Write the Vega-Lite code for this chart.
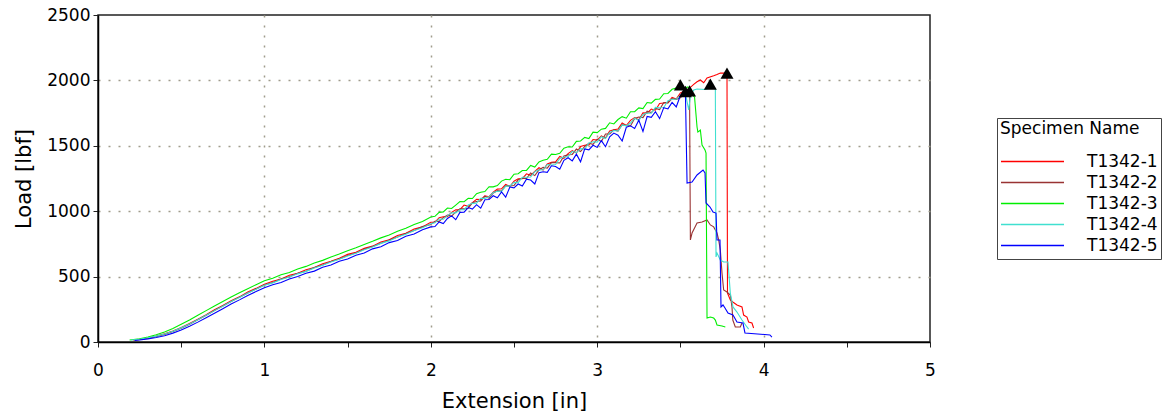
{
  "$schema": "https://vega.github.io/schema/vega-lite/v6.json",
  "width": 832,
  "height": 327,
  "autosize": {"type": "none"},
  "padding": {"left": 98, "top": 15, "right": 242, "bottom": 74},
  "background": "white",
  "config": {
    "font": "DejaVu Sans",
    "view": {"stroke": "#222222", "strokeWidth": 1.5},
    "axis": {
      "labelFont": "DejaVu Sans",
      "titleFont": "DejaVu Sans",
      "labelColor": "#000000",
      "titleColor": "#000000",
      "labelFontSize": 17,
      "titleFontSize": 21,
      "titleFontWeight": "normal",
      "domainColor": "#000000",
      "domainWidth": 1.5,
      "tickColor": "#222222",
      "tickSize": 5,
      "gridColor": "#a09c8c",
      "gridWidth": 1.5,
      "gridDash": [2, 8]
    }
  },
  "datasets": {
    "lines": [
      {"s":"T1342-1","x":0.21,"y":15},{"s":"T1342-1","x":0.25,"y":20},{"s":"T1342-1","x":0.3,"y":31},{"s":"T1342-1","x":0.35,"y":45},{"s":"T1342-1","x":0.4,"y":63},{"s":"T1342-1","x":0.45,"y":84},{"s":"T1342-1","x":0.5,"y":110},{"s":"T1342-1","x":0.55,"y":141},{"s":"T1342-1","x":0.6,"y":174},{"s":"T1342-1","x":0.65,"y":208},{"s":"T1342-1","x":0.7,"y":246},{"s":"T1342-1","x":0.75,"y":279},{"s":"T1342-1","x":0.8,"y":316},{"s":"T1342-1","x":0.85,"y":345},{"s":"T1342-1","x":0.9,"y":382},{"s":"T1342-1","x":0.95,"y":410},
      {"s":"T1342-1","x":1,"y":441},{"s":"T1342-1","x":1.05,"y":465},{"s":"T1342-1","x":1.1,"y":482},{"s":"T1342-1","x":1.15,"y":510},{"s":"T1342-1","x":1.2,"y":526},{"s":"T1342-1","x":1.25,"y":553},{"s":"T1342-1","x":1.3,"y":569},{"s":"T1342-1","x":1.35,"y":599},{"s":"T1342-1","x":1.4,"y":617},{"s":"T1342-1","x":1.45,"y":640},{"s":"T1342-1","x":1.5,"y":670},{"s":"T1342-1","x":1.55,"y":686},{"s":"T1342-1","x":1.6,"y":716},{"s":"T1342-1","x":1.65,"y":733},{"s":"T1342-1","x":1.7,"y":765},{"s":"T1342-1","x":1.75,"y":781},{"s":"T1342-1","x":1.8,"y":815},{"s":"T1342-1","x":1.85,"y":832},{"s":"T1342-1","x":1.9,"y":864},{"s":"T1342-1","x":1.95,"y":880},
      {"s":"T1342-1","x":2,"y":915},{"s":"T1342-1","x":2.025,"y":917},{"s":"T1342-1","x":2.05,"y":950},{"s":"T1342-1","x":2.075,"y":957},{"s":"T1342-1","x":2.1,"y":958},{"s":"T1342-1","x":2.125,"y":991},{"s":"T1342-1","x":2.15,"y":1010},{"s":"T1342-1","x":2.175,"y":1012},{"s":"T1342-1","x":2.2,"y":1047},{"s":"T1342-1","x":2.225,"y":1037},{"s":"T1342-1","x":2.25,"y":1066},{"s":"T1342-1","x":2.275,"y":1091},{"s":"T1342-1","x":2.3,"y":1089},{"s":"T1342-1","x":2.325,"y":1118},{"s":"T1342-1","x":2.35,"y":1111},{"s":"T1342-1","x":2.375,"y":1146},{"s":"T1342-1","x":2.4,"y":1169},{"s":"T1342-1","x":2.425,"y":1171},{"s":"T1342-1","x":2.45,"y":1204},{"s":"T1342-1","x":2.475,"y":1188},
      {"s":"T1342-1","x":2.5,"y":1229},{"s":"T1342-1","x":2.525,"y":1248},{"s":"T1342-1","x":2.55,"y":1249},{"s":"T1342-1","x":2.575,"y":1286},{"s":"T1342-1","x":2.6,"y":1274},{"s":"T1342-1","x":2.625,"y":1304},{"s":"T1342-1","x":2.65,"y":1332},{"s":"T1342-1","x":2.675,"y":1315},{"s":"T1342-1","x":2.7,"y":1361},{"s":"T1342-1","x":2.725,"y":1373},{"s":"T1342-1","x":2.75,"y":1377},{"s":"T1342-1","x":2.775,"y":1419},{"s":"T1342-1","x":2.8,"y":1404},{"s":"T1342-1","x":2.825,"y":1440},{"s":"T1342-1","x":2.85,"y":1463},{"s":"T1342-1","x":2.875,"y":1445},{"s":"T1342-1","x":2.9,"y":1494},{"s":"T1342-1","x":2.925,"y":1504},{"s":"T1342-1","x":2.95,"y":1507},{"s":"T1342-1","x":2.975,"y":1548},
      {"s":"T1342-1","x":3,"y":1544},{"s":"T1342-1","x":3.025,"y":1575},{"s":"T1342-1","x":3.05,"y":1560},{"s":"T1342-1","x":3.075,"y":1614},{"s":"T1342-1","x":3.1,"y":1623},{"s":"T1342-1","x":3.125,"y":1628},{"s":"T1342-1","x":3.15,"y":1675},{"s":"T1342-1","x":3.175,"y":1655},{"s":"T1342-1","x":3.2,"y":1695},{"s":"T1342-1","x":3.225,"y":1716},{"s":"T1342-1","x":3.25,"y":1698},{"s":"T1342-1","x":3.275,"y":1752},{"s":"T1342-1","x":3.3,"y":1750},{"s":"T1342-1","x":3.325,"y":1781},{"s":"T1342-1","x":3.35,"y":1772},{"s":"T1342-1","x":3.375,"y":1823},{"s":"T1342-1","x":3.4,"y":1827},{"s":"T1342-1","x":3.425,"y":1830},{"s":"T1342-1","x":3.45,"y":1870},{"s":"T1342-1","x":3.475,"y":1857},{"s":"T1342-1","x":3.5,"y":1905},
      {"s":"T1342-1","x":3.55,"y":1935},{"s":"T1342-1","x":3.58,"y":1970},{"s":"T1342-1","x":3.6,"y":1990},{"s":"T1342-1","x":3.62,"y":2003},{"s":"T1342-1","x":3.64,"y":1982},{"s":"T1342-1","x":3.66,"y":2018},{"s":"T1342-1","x":3.7,"y":2035},{"s":"T1342-1","x":3.72,"y":2045},{"s":"T1342-1","x":3.74,"y":2056},{"s":"T1342-1","x":3.78,"y":2056},
      {"s":"T1342-1","x":3.783,"y":374},{"s":"T1342-1","x":3.8,"y":321},{"s":"T1342-1","x":3.815,"y":306},{"s":"T1342-1","x":3.84,"y":283},{"s":"T1342-1","x":3.87,"y":268},{"s":"T1342-1","x":3.88,"y":206},{"s":"T1342-1","x":3.9,"y":191},{"s":"T1342-1","x":3.91,"y":153},{"s":"T1342-1","x":3.93,"y":145},{"s":"T1342-1","x":3.94,"y":107},

      {"s":"T1342-2","x":0.22,"y":15},{"s":"T1342-2","x":0.25,"y":19},{"s":"T1342-2","x":0.3,"y":29},{"s":"T1342-2","x":0.35,"y":42},{"s":"T1342-2","x":0.4,"y":58},{"s":"T1342-2","x":0.45,"y":80},{"s":"T1342-2","x":0.5,"y":106},{"s":"T1342-2","x":0.55,"y":136},{"s":"T1342-2","x":0.6,"y":170},{"s":"T1342-2","x":0.65,"y":204},{"s":"T1342-2","x":0.7,"y":241},{"s":"T1342-2","x":0.75,"y":276},{"s":"T1342-2","x":0.8,"y":309},{"s":"T1342-2","x":0.85,"y":343},{"s":"T1342-2","x":0.9,"y":375},{"s":"T1342-2","x":0.95,"y":406},
      {"s":"T1342-2","x":1,"y":436},{"s":"T1342-2","x":1.05,"y":455},{"s":"T1342-2","x":1.1,"y":481},{"s":"T1342-2","x":1.15,"y":499},{"s":"T1342-2","x":1.2,"y":525},{"s":"T1342-2","x":1.25,"y":541},{"s":"T1342-2","x":1.3,"y":570},{"s":"T1342-2","x":1.35,"y":588},{"s":"T1342-2","x":1.4,"y":615},{"s":"T1342-2","x":1.45,"y":634},{"s":"T1342-2","x":1.5,"y":662},{"s":"T1342-2","x":1.55,"y":680},{"s":"T1342-2","x":1.6,"y":709},{"s":"T1342-2","x":1.65,"y":730},{"s":"T1342-2","x":1.7,"y":755},{"s":"T1342-2","x":1.75,"y":780},{"s":"T1342-2","x":1.8,"y":803},{"s":"T1342-2","x":1.85,"y":830},{"s":"T1342-2","x":1.9,"y":852},{"s":"T1342-2","x":1.95,"y":882},
      {"s":"T1342-2","x":2,"y":899},{"s":"T1342-2","x":2.025,"y":923},{"s":"T1342-2","x":2.05,"y":922},{"s":"T1342-2","x":2.075,"y":951},{"s":"T1342-2","x":2.1,"y":970},{"s":"T1342-2","x":2.125,"y":963},{"s":"T1342-2","x":2.15,"y":995},{"s":"T1342-2","x":2.175,"y":1018},{"s":"T1342-2","x":2.2,"y":1018},{"s":"T1342-2","x":2.225,"y":1023},{"s":"T1342-2","x":2.25,"y":1064},{"s":"T1342-2","x":2.275,"y":1074},{"s":"T1342-2","x":2.3,"y":1079},{"s":"T1342-2","x":2.325,"y":1114},{"s":"T1342-2","x":2.35,"y":1098},{"s":"T1342-2","x":2.375,"y":1139},{"s":"T1342-2","x":2.4,"y":1157},{"s":"T1342-2","x":2.425,"y":1155},{"s":"T1342-2","x":2.45,"y":1195},{"s":"T1342-2","x":2.475,"y":1194},
      {"s":"T1342-2","x":2.5,"y":1196},{"s":"T1342-2","x":2.525,"y":1240},{"s":"T1342-2","x":2.55,"y":1252},{"s":"T1342-2","x":2.575,"y":1250},{"s":"T1342-2","x":2.6,"y":1292},{"s":"T1342-2","x":2.625,"y":1272},{"s":"T1342-2","x":2.65,"y":1315},{"s":"T1342-2","x":2.675,"y":1336},{"s":"T1342-2","x":2.7,"y":1329},{"s":"T1342-2","x":2.725,"y":1371},{"s":"T1342-2","x":2.75,"y":1371},{"s":"T1342-2","x":2.775,"y":1369},{"s":"T1342-2","x":2.8,"y":1422},{"s":"T1342-2","x":2.825,"y":1431},{"s":"T1342-2","x":2.85,"y":1434},{"s":"T1342-2","x":2.875,"y":1475},{"s":"T1342-2","x":2.9,"y":1456},{"s":"T1342-2","x":2.925,"y":1495},{"s":"T1342-2","x":2.95,"y":1519},{"s":"T1342-2","x":2.975,"y":1511},
      {"s":"T1342-2","x":3,"y":1550},{"s":"T1342-2","x":3.025,"y":1533},{"s":"T1342-2","x":3.05,"y":1590},{"s":"T1342-2","x":3.075,"y":1591},{"s":"T1342-2","x":3.1,"y":1621},{"s":"T1342-2","x":3.125,"y":1612},{"s":"T1342-2","x":3.15,"y":1662},{"s":"T1342-2","x":3.175,"y":1655},{"s":"T1342-2","x":3.2,"y":1652},{"s":"T1342-2","x":3.225,"y":1709},{"s":"T1342-2","x":3.25,"y":1720},{"s":"T1342-2","x":3.275,"y":1716},{"s":"T1342-2","x":3.3,"y":1765},{"s":"T1342-2","x":3.325,"y":1754},{"s":"T1342-2","x":3.35,"y":1786},{"s":"T1342-2","x":3.375,"y":1777},{"s":"T1342-2","x":3.4,"y":1831},{"s":"T1342-2","x":3.425,"y":1828},{"s":"T1342-2","x":3.45,"y":1861},{"s":"T1342-2","x":3.475,"y":1854},{"s":"T1342-2","x":3.5,"y":1867},{"s":"T1342-2","x":3.53,"y":1905},{"s":"T1342-2","x":3.555,"y":1920},
      {"s":"T1342-2","x":3.56,"y":780},{"s":"T1342-2","x":3.57,"y":833},{"s":"T1342-2","x":3.585,"y":872},{"s":"T1342-2","x":3.6,"y":910},{"s":"T1342-2","x":3.63,"y":917},{"s":"T1342-2","x":3.66,"y":933},{"s":"T1342-2","x":3.68,"y":895},{"s":"T1342-2","x":3.7,"y":880},{"s":"T1342-2","x":3.72,"y":833},{"s":"T1342-2","x":3.73,"y":780},{"s":"T1342-2","x":3.74,"y":703},{"s":"T1342-2","x":3.75,"y":527},{"s":"T1342-2","x":3.76,"y":398},{"s":"T1342-2","x":3.78,"y":382},{"s":"T1342-2","x":3.8,"y":359},{"s":"T1342-2","x":3.81,"y":268},{"s":"T1342-2","x":3.815,"y":168},{"s":"T1342-2","x":3.83,"y":115},{"s":"T1342-2","x":3.86,"y":115},{"s":"T1342-2","x":3.87,"y":145},

      {"s":"T1342-3","x":0.19,"y":15},{"s":"T1342-3","x":0.25,"y":25},{"s":"T1342-3","x":0.3,"y":38},{"s":"T1342-3","x":0.35,"y":55},{"s":"T1342-3","x":0.4,"y":76},{"s":"T1342-3","x":0.45,"y":103},{"s":"T1342-3","x":0.5,"y":135},{"s":"T1342-3","x":0.55,"y":168},{"s":"T1342-3","x":0.6,"y":204},{"s":"T1342-3","x":0.65,"y":240},{"s":"T1342-3","x":0.7,"y":276},{"s":"T1342-3","x":0.75,"y":310},{"s":"T1342-3","x":0.8,"y":344},{"s":"T1342-3","x":0.85,"y":376},{"s":"T1342-3","x":0.9,"y":408},{"s":"T1342-3","x":0.95,"y":438},
      {"s":"T1342-3","x":1,"y":468},{"s":"T1342-3","x":1.05,"y":488},{"s":"T1342-3","x":1.1,"y":514},{"s":"T1342-3","x":1.15,"y":532},{"s":"T1342-3","x":1.2,"y":558},{"s":"T1342-3","x":1.25,"y":578},{"s":"T1342-3","x":1.3,"y":604},{"s":"T1342-3","x":1.35,"y":624},{"s":"T1342-3","x":1.4,"y":650},{"s":"T1342-3","x":1.45,"y":672},{"s":"T1342-3","x":1.5,"y":698},{"s":"T1342-3","x":1.55,"y":720},{"s":"T1342-3","x":1.6,"y":746},{"s":"T1342-3","x":1.65,"y":770},{"s":"T1342-3","x":1.7,"y":796},{"s":"T1342-3","x":1.75,"y":818},{"s":"T1342-3","x":1.8,"y":846},{"s":"T1342-3","x":1.85,"y":870},{"s":"T1342-3","x":1.9,"y":898},{"s":"T1342-3","x":1.95,"y":922},
      {"s":"T1342-3","x":2,"y":956},{"s":"T1342-3","x":2.025,"y":961},{"s":"T1342-3","x":2.05,"y":991},{"s":"T1342-3","x":2.075,"y":995},{"s":"T1342-3","x":2.1,"y":1024},{"s":"T1342-3","x":2.125,"y":1021},{"s":"T1342-3","x":2.15,"y":1047},{"s":"T1342-3","x":2.175,"y":1073},{"s":"T1342-3","x":2.2,"y":1072},{"s":"T1342-3","x":2.225,"y":1098},{"s":"T1342-3","x":2.25,"y":1097},{"s":"T1342-3","x":2.275,"y":1134},{"s":"T1342-3","x":2.3,"y":1145},{"s":"T1342-3","x":2.325,"y":1150},{"s":"T1342-3","x":2.35,"y":1187},{"s":"T1342-3","x":2.375,"y":1186},{"s":"T1342-3","x":2.4,"y":1196},{"s":"T1342-3","x":2.425,"y":1230},{"s":"T1342-3","x":2.45,"y":1244},{"s":"T1342-3","x":2.475,"y":1241},
      {"s":"T1342-3","x":2.5,"y":1283},{"s":"T1342-3","x":2.525,"y":1286},{"s":"T1342-3","x":2.55,"y":1311},{"s":"T1342-3","x":2.575,"y":1312},{"s":"T1342-3","x":2.6,"y":1350},{"s":"T1342-3","x":2.625,"y":1337},{"s":"T1342-3","x":2.65,"y":1377},{"s":"T1342-3","x":2.675,"y":1389},{"s":"T1342-3","x":2.7,"y":1397},{"s":"T1342-3","x":2.725,"y":1436},{"s":"T1342-3","x":2.75,"y":1433},{"s":"T1342-3","x":2.775,"y":1443},{"s":"T1342-3","x":2.8,"y":1482},{"s":"T1342-3","x":2.825,"y":1492},{"s":"T1342-3","x":2.85,"y":1491},{"s":"T1342-3","x":2.875,"y":1534},{"s":"T1342-3","x":2.9,"y":1537},{"s":"T1342-3","x":2.925,"y":1564},{"s":"T1342-3","x":2.95,"y":1555},{"s":"T1342-3","x":2.975,"y":1604},
      {"s":"T1342-3","x":3,"y":1601},{"s":"T1342-3","x":3.025,"y":1627},{"s":"T1342-3","x":3.05,"y":1633},{"s":"T1342-3","x":3.075,"y":1676},{"s":"T1342-3","x":3.1,"y":1667},{"s":"T1342-3","x":3.125,"y":1701},{"s":"T1342-3","x":3.15,"y":1723},{"s":"T1342-3","x":3.175,"y":1711},{"s":"T1342-3","x":3.2,"y":1760},{"s":"T1342-3","x":3.225,"y":1761},{"s":"T1342-3","x":3.25,"y":1790},{"s":"T1342-3","x":3.275,"y":1784},{"s":"T1342-3","x":3.3,"y":1831},{"s":"T1342-3","x":3.325,"y":1826},{"s":"T1342-3","x":3.35,"y":1855},{"s":"T1342-3","x":3.375,"y":1858},{"s":"T1342-3","x":3.4,"y":1898},{"s":"T1342-3","x":3.425,"y":1900},{"s":"T1342-3","x":3.45,"y":1932},{"s":"T1342-3","x":3.475,"y":1941},{"s":"T1342-3","x":3.5,"y":1965},
      {"s":"T1342-3","x":3.52,"y":1940},{"s":"T1342-3","x":3.545,"y":1950},{"s":"T1342-3","x":3.56,"y":1904},{"s":"T1342-3","x":3.585,"y":1873},{"s":"T1342-3","x":3.6,"y":1644},{"s":"T1342-3","x":3.605,"y":1605},{"s":"T1342-3","x":3.62,"y":1621},{"s":"T1342-3","x":3.63,"y":1506},{"s":"T1342-3","x":3.648,"y":1468},{"s":"T1342-3","x":3.654,"y":1445},{"s":"T1342-3","x":3.66,"y":183},{"s":"T1342-3","x":3.68,"y":191},{"s":"T1342-3","x":3.7,"y":183},{"s":"T1342-3","x":3.71,"y":168},{"s":"T1342-3","x":3.72,"y":130},{"s":"T1342-3","x":3.75,"y":122},{"s":"T1342-3","x":3.77,"y":115},

      {"s":"T1342-4","x":0.2,"y":15},{"s":"T1342-4","x":0.25,"y":21},{"s":"T1342-4","x":0.3,"y":32},{"s":"T1342-4","x":0.35,"y":45},{"s":"T1342-4","x":0.4,"y":61},{"s":"T1342-4","x":0.45,"y":82},{"s":"T1342-4","x":0.5,"y":108},{"s":"T1342-4","x":0.55,"y":137},{"s":"T1342-4","x":0.6,"y":170},{"s":"T1342-4","x":0.65,"y":204},{"s":"T1342-4","x":0.7,"y":240},{"s":"T1342-4","x":0.75,"y":274},{"s":"T1342-4","x":0.8,"y":309},{"s":"T1342-4","x":0.85,"y":340},{"s":"T1342-4","x":0.9,"y":374},{"s":"T1342-4","x":0.95,"y":403},
      {"s":"T1342-4","x":1,"y":434},{"s":"T1342-4","x":1.05,"y":452},{"s":"T1342-4","x":1.1,"y":478},{"s":"T1342-4","x":1.15,"y":497},{"s":"T1342-4","x":1.2,"y":521},{"s":"T1342-4","x":1.25,"y":540},{"s":"T1342-4","x":1.3,"y":566},{"s":"T1342-4","x":1.35,"y":586},{"s":"T1342-4","x":1.4,"y":612},{"s":"T1342-4","x":1.45,"y":632},{"s":"T1342-4","x":1.5,"y":658},{"s":"T1342-4","x":1.55,"y":678},{"s":"T1342-4","x":1.6,"y":706},{"s":"T1342-4","x":1.65,"y":726},{"s":"T1342-4","x":1.7,"y":754},{"s":"T1342-4","x":1.75,"y":773},{"s":"T1342-4","x":1.8,"y":803},{"s":"T1342-4","x":1.85,"y":824},{"s":"T1342-4","x":1.9,"y":853},{"s":"T1342-4","x":1.95,"y":873},
      {"s":"T1342-4","x":2,"y":904},{"s":"T1342-4","x":2.025,"y":912},{"s":"T1342-4","x":2.05,"y":939},{"s":"T1342-4","x":2.075,"y":938},{"s":"T1342-4","x":2.1,"y":966},{"s":"T1342-4","x":2.125,"y":987},{"s":"T1342-4","x":2.15,"y":987},{"s":"T1342-4","x":2.175,"y":1011},{"s":"T1342-4","x":2.2,"y":1012},{"s":"T1342-4","x":2.225,"y":1047},{"s":"T1342-4","x":2.25,"y":1060},{"s":"T1342-4","x":2.275,"y":1061},{"s":"T1342-4","x":2.3,"y":1099},{"s":"T1342-4","x":2.325,"y":1098},{"s":"T1342-4","x":2.35,"y":1110},{"s":"T1342-4","x":2.375,"y":1143},{"s":"T1342-4","x":2.4,"y":1153},{"s":"T1342-4","x":2.425,"y":1152},{"s":"T1342-4","x":2.45,"y":1192},{"s":"T1342-4","x":2.475,"y":1192},
      {"s":"T1342-4","x":2.5,"y":1220},{"s":"T1342-4","x":2.525,"y":1218},{"s":"T1342-4","x":2.55,"y":1260},{"s":"T1342-4","x":2.575,"y":1259},{"s":"T1342-4","x":2.6,"y":1262},{"s":"T1342-4","x":2.625,"y":1302},{"s":"T1342-4","x":2.65,"y":1316},{"s":"T1342-4","x":2.675,"y":1317},{"s":"T1342-4","x":2.7,"y":1357},{"s":"T1342-4","x":2.725,"y":1353},{"s":"T1342-4","x":2.75,"y":1357},{"s":"T1342-4","x":2.775,"y":1403},{"s":"T1342-4","x":2.8,"y":1414},{"s":"T1342-4","x":2.825,"y":1417},{"s":"T1342-4","x":2.85,"y":1458},{"s":"T1342-4","x":2.875,"y":1447},{"s":"T1342-4","x":2.9,"y":1478},{"s":"T1342-4","x":2.925,"y":1474},{"s":"T1342-4","x":2.95,"y":1521},{"s":"T1342-4","x":2.975,"y":1531},
      {"s":"T1342-4","x":3,"y":1528},{"s":"T1342-4","x":3.025,"y":1569},{"s":"T1342-4","x":3.05,"y":1555},{"s":"T1342-4","x":3.075,"y":1602},{"s":"T1342-4","x":3.1,"y":1617},{"s":"T1342-4","x":3.125,"y":1613},{"s":"T1342-4","x":3.15,"y":1660},{"s":"T1342-4","x":3.175,"y":1653},{"s":"T1342-4","x":3.2,"y":1674},{"s":"T1342-4","x":3.225,"y":1711},{"s":"T1342-4","x":3.25,"y":1694},{"s":"T1342-4","x":3.275,"y":1739},{"s":"T1342-4","x":3.3,"y":1750},{"s":"T1342-4","x":3.325,"y":1749},{"s":"T1342-4","x":3.35,"y":1794},{"s":"T1342-4","x":3.375,"y":1791},{"s":"T1342-4","x":3.4,"y":1793},{"s":"T1342-4","x":3.425,"y":1844},{"s":"T1342-4","x":3.45,"y":1856},{"s":"T1342-4","x":3.475,"y":1857},{"s":"T1342-4","x":3.5,"y":1885},
      {"s":"T1342-4","x":3.53,"y":1900},{"s":"T1342-4","x":3.55,"y":1774},{"s":"T1342-4","x":3.56,"y":1880},{"s":"T1342-4","x":3.58,"y":1927},{"s":"T1342-4","x":3.6,"y":1934},{"s":"T1342-4","x":3.65,"y":1930},{"s":"T1342-4","x":3.68,"y":1945},{"s":"T1342-4","x":3.71,"y":1934},
      {"s":"T1342-4","x":3.714,"y":650},{"s":"T1342-4","x":3.72,"y":680},{"s":"T1342-4","x":3.74,"y":627},{"s":"T1342-4","x":3.76,"y":612},{"s":"T1342-4","x":3.786,"y":612},{"s":"T1342-4","x":3.8,"y":374},{"s":"T1342-4","x":3.816,"y":268},{"s":"T1342-4","x":3.84,"y":229},{"s":"T1342-4","x":3.87,"y":168},{"s":"T1342-4","x":3.9,"y":115},{"s":"T1342-4","x":3.91,"y":99},

      {"s":"T1342-5","x":0.22,"y":12},{"s":"T1342-5","x":0.25,"y":15},{"s":"T1342-5","x":0.3,"y":24},{"s":"T1342-5","x":0.35,"y":35},{"s":"T1342-5","x":0.4,"y":48},{"s":"T1342-5","x":0.45,"y":68},{"s":"T1342-5","x":0.5,"y":92},{"s":"T1342-5","x":0.55,"y":120},{"s":"T1342-5","x":0.6,"y":152},{"s":"T1342-5","x":0.65,"y":186},{"s":"T1342-5","x":0.7,"y":220},{"s":"T1342-5","x":0.75,"y":255},{"s":"T1342-5","x":0.8,"y":290},{"s":"T1342-5","x":0.85,"y":322},{"s":"T1342-5","x":0.9,"y":356},{"s":"T1342-5","x":0.95,"y":386},
      {"s":"T1342-5","x":1,"y":415},{"s":"T1342-5","x":1.05,"y":438},{"s":"T1342-5","x":1.1,"y":455},{"s":"T1342-5","x":1.15,"y":482},{"s":"T1342-5","x":1.2,"y":500},{"s":"T1342-5","x":1.25,"y":526},{"s":"T1342-5","x":1.3,"y":542},{"s":"T1342-5","x":1.35,"y":572},{"s":"T1342-5","x":1.4,"y":588},{"s":"T1342-5","x":1.45,"y":618},{"s":"T1342-5","x":1.5,"y":635},{"s":"T1342-5","x":1.55,"y":664},{"s":"T1342-5","x":1.6,"y":680},{"s":"T1342-5","x":1.65,"y":712},{"s":"T1342-5","x":1.7,"y":728},{"s":"T1342-5","x":1.75,"y":760},{"s":"T1342-5","x":1.8,"y":776},{"s":"T1342-5","x":1.85,"y":808},{"s":"T1342-5","x":1.9,"y":826},{"s":"T1342-5","x":1.95,"y":858},
      {"s":"T1342-5","x":2,"y":880},{"s":"T1342-5","x":2.025,"y":883},{"s":"T1342-5","x":2.05,"y":918},{"s":"T1342-5","x":2.075,"y":905},{"s":"T1342-5","x":2.1,"y":944},{"s":"T1342-5","x":2.125,"y":964},{"s":"T1342-5","x":2.15,"y":935},{"s":"T1342-5","x":2.175,"y":991},{"s":"T1342-5","x":2.2,"y":993},{"s":"T1342-5","x":2.225,"y":1028},{"s":"T1342-5","x":2.25,"y":1016},{"s":"T1342-5","x":2.275,"y":1050},{"s":"T1342-5","x":2.3,"y":1023},{"s":"T1342-5","x":2.325,"y":1088},{"s":"T1342-5","x":2.35,"y":1089},{"s":"T1342-5","x":2.375,"y":1118},{"s":"T1342-5","x":2.4,"y":1103},{"s":"T1342-5","x":2.425,"y":1147},{"s":"T1342-5","x":2.45,"y":1107},{"s":"T1342-5","x":2.475,"y":1185},
      {"s":"T1342-5","x":2.5,"y":1179},{"s":"T1342-5","x":2.525,"y":1208},{"s":"T1342-5","x":2.55,"y":1192},{"s":"T1342-5","x":2.575,"y":1245},{"s":"T1342-5","x":2.6,"y":1238},{"s":"T1342-5","x":2.625,"y":1208},{"s":"T1342-5","x":2.65,"y":1295},{"s":"T1342-5","x":2.675,"y":1302},{"s":"T1342-5","x":2.7,"y":1297},{"s":"T1342-5","x":2.725,"y":1347},{"s":"T1342-5","x":2.75,"y":1342},{"s":"T1342-5","x":2.775,"y":1321},{"s":"T1342-5","x":2.8,"y":1389},{"s":"T1342-5","x":2.825,"y":1409},{"s":"T1342-5","x":2.85,"y":1385},{"s":"T1342-5","x":2.875,"y":1436},{"s":"T1342-5","x":2.9,"y":1378},{"s":"T1342-5","x":2.925,"y":1476},{"s":"T1342-5","x":2.95,"y":1469},{"s":"T1342-5","x":2.975,"y":1504},
      {"s":"T1342-5","x":3,"y":1488},{"s":"T1342-5","x":3.025,"y":1540},{"s":"T1342-5","x":3.05,"y":1493},{"s":"T1342-5","x":3.075,"y":1569},{"s":"T1342-5","x":3.1,"y":1597},{"s":"T1342-5","x":3.125,"y":1581},{"s":"T1342-5","x":3.15,"y":1537},{"s":"T1342-5","x":3.175,"y":1642},{"s":"T1342-5","x":3.2,"y":1653},{"s":"T1342-5","x":3.225,"y":1632},{"s":"T1342-5","x":3.25,"y":1696},{"s":"T1342-5","x":3.275,"y":1609},{"s":"T1342-5","x":3.3,"y":1724},{"s":"T1342-5","x":3.325,"y":1718},{"s":"T1342-5","x":3.35,"y":1761},{"s":"T1342-5","x":3.375,"y":1708},{"s":"T1342-5","x":3.4,"y":1792},{"s":"T1342-5","x":3.425,"y":1782},{"s":"T1342-5","x":3.45,"y":1832},{"s":"T1342-5","x":3.475,"y":1797},{"s":"T1342-5","x":3.5,"y":1885},{"s":"T1342-5","x":3.53,"y":1915},
      {"s":"T1342-5","x":3.54,"y":1215},{"s":"T1342-5","x":3.57,"y":1223},{"s":"T1342-5","x":3.6,"y":1277},{"s":"T1342-5","x":3.636,"y":1315},{"s":"T1342-5","x":3.648,"y":1292},{"s":"T1342-5","x":3.654,"y":1063},{"s":"T1342-5","x":3.678,"y":1032},{"s":"T1342-5","x":3.696,"y":994},{"s":"T1342-5","x":3.714,"y":986},{"s":"T1342-5","x":3.72,"y":780},{"s":"T1342-5","x":3.738,"y":780},{"s":"T1342-5","x":3.744,"y":268},{"s":"T1342-5","x":3.756,"y":283},{"s":"T1342-5","x":3.768,"y":260},{"s":"T1342-5","x":3.786,"y":222},{"s":"T1342-5","x":3.816,"y":206},{"s":"T1342-5","x":3.84,"y":153},{"s":"T1342-5","x":3.876,"y":145},{"s":"T1342-5","x":3.888,"y":69},{"s":"T1342-5","x":4.038,"y":54},{"s":"T1342-5","x":4.05,"y":38}
    ],
    "peaks": [
      {"s":"T1342-1","x":3.78,"y":2056},
      {"s":"T1342-2","x":3.555,"y":1920},
      {"s":"T1342-3","x":3.5,"y":1965},
      {"s":"T1342-4","x":3.68,"y":1972},
      {"s":"T1342-5","x":3.53,"y":1915}
    ]
  },
  "layer": [
    {
      "data": {"name": "lines"},
      "mark": {"type": "line", "strokeWidth": 1.1, "clip": true},
      "encoding": {
        "x": {
          "field": "x", "type": "quantitative",
          "scale": {"domain": [0, 5], "nice": false, "zero": false},
          "axis": {
            "title": "Extension [in]",
            "values": [0, 0.5, 1, 1.5, 2, 2.5, 3, 3.5, 4, 4.5, 5],
            "labelExpr": "datum.value % 1 === 0 ? format(datum.value, 'd') : ''",
            "labelFlush": false,
            "labelPadding": 15,
            "titlePadding": 12,
            "grid": true,
            "gridOpacity": {"condition": {"test": "datum.value % 1 === 0 && datum.value > 0 && datum.value < 5", "value": 1}, "value": 0}
          }
        },
        "y": {
          "field": "y", "type": "quantitative",
          "scale": {"domain": [0, 2500], "nice": false},
          "axis": {
            "title": "Load [lbf]",
            "values": [0, 250, 500, 750, 1000, 1250, 1500, 1750, 2000, 2250, 2500],
            "labelExpr": "datum.value % 500 === 0 ? format(datum.value, 'd') : ''",
            "labelPadding": 3,
            "titlePadding": 12,
            "grid": true,
            "gridOpacity": {"condition": {"test": "datum.value % 500 === 0 && datum.value > 0 && datum.value < 2500", "value": 1}, "value": 0}
          }
        },
        "color": {
          "field": "s", "type": "nominal",
          "scale": {
            "domain": ["T1342-1", "T1342-2", "T1342-3", "T1342-4", "T1342-5"],
            "range": ["#ff0000", "#993333", "#00ee00", "#40e0d0", "#0000ff"]
          },
          "legend": {
            "title": "Specimen Name",
            "orient": "none",
            "legendX": 899,
            "legendY": 103,
            "padding": 3,
            "strokeColor": "#444444",
            "fillColor": "#ffffff",
            "titleFont": "DejaVu Sans",
            "titleFontSize": 17,
            "titleFontWeight": "normal",
            "titleColor": "#000000",
            "titlePadding": 13,
            "labelFont": "DejaVu Sans",
            "labelFontSize": 17,
            "labelColor": "#000000",
            "labelOffset": 22,
            "symbolType": "stroke",
            "symbolSize": 3969,
            "symbolStrokeWidth": 1.5,
            "clipHeight": 21,
            "rowPadding": 0
          }
        },
        "order": {"value": null}
      }
    },
    {
      "data": {"name": "peaks"},
      "mark": {"type": "point", "shape": "triangle-up", "filled": true, "color": "#000000", "size": 170, "opacity": 1},
      "encoding": {
        "x": {"field": "x", "type": "quantitative"},
        "y": {"field": "y", "type": "quantitative"}
      }
    }
  ]
}
